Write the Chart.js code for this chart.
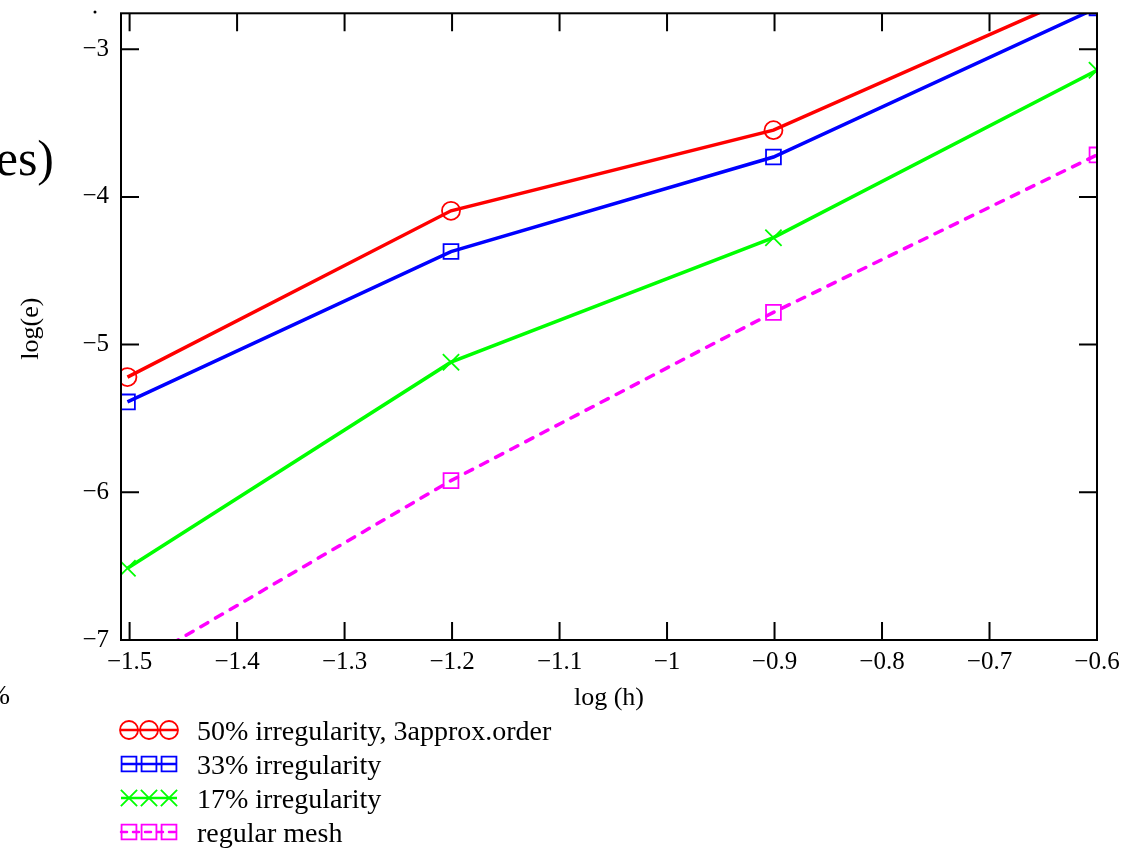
<!DOCTYPE html>
<html>
<head>
<meta charset="utf-8">
<title>log(e) vs log(h)</title>
<script src="https://cdn.jsdelivr.net/npm/chart.js@4.4.1/dist/chart.umd.min.js"></script>
<style>
  body { margin: 0; background: #fff; }
  #wrap { width: 1137px; height: 849px; }
</style>
</head>
<body>
<div id="wrap"><canvas id="errChart" width="1137" height="849"></canvas></div>
<script>
// log of mesh size and log of error for each mesh type
const logH = [-1.502, -1.201, -0.901, -0.600];
const irr50 = [-5.22, -4.094, -3.548, -2.58];
const irr33 = [-5.388, -4.370, -3.730, -2.72];
const irr17 = [-6.514, -5.119, -4.276, -3.143];
const regularMesh = [-7.2, -5.921, -4.782, -3.716];

const seriesLabels = [
  "50% irregularity, 3approx.order",
  "33% irregularity",
  "17% irregularity",
  "regular mesh"
];
const xTicks = [-1.5, -1.4, -1.3, -1.2, -1.1, -1.0, -0.9, -0.8, -0.7, -0.6];
const yTicks = [-7, -6, -5, -4, -3];

const serif = "'Liberation Serif', 'Times New Roman', serif";

function points(ys) {
  return ys.map((y, i) => ({ x: logH[i], y: y }));
}

function fmt(v) {
  const r = Math.round(v * 10) / 10;
  return String(r).replace("-", "\u2212");
}

function makeSet(label, ys, color, style, radius, dash) {
  return {
    label: label,
    data: points(ys),
    borderColor: color,
    backgroundColor: "transparent",
    borderWidth: 3.5,
    borderDash: dash || [],
    borderCapStyle: dash ? "round" : "butt",
    pointStyle: style,
    pointRadius: radius,
    pointHoverRadius: radius,
    pointBorderWidth: 1.8,
    pointBorderColor: color,
    pointBackgroundColor: "transparent",
    tension: 0,
    fill: false,
    clip: 0
  };
}

// box, inward ticks, titles and legend
const frame = {
  id: "frame",
  afterDraw(chart) {
    const ctx = chart.ctx;
    const a = chart.chartArea;
    const xs = chart.scales.x;
    const ys = chart.scales.y;
    const tl = 18;
    ctx.save();
    ctx.strokeStyle = "#000";
    ctx.lineWidth = 2;
    ctx.strokeRect(a.left, a.top, a.right - a.left, a.bottom - a.top);
    ctx.beginPath();
    xs.ticks.forEach(t => {
      const px = xs.getPixelForValue(t.value);
      ctx.moveTo(px, a.bottom); ctx.lineTo(px, a.bottom - tl);
      ctx.moveTo(px, a.top); ctx.lineTo(px, a.top + tl);
    });
    ys.ticks.forEach(t => {
      const py = ys.getPixelForValue(t.value);
      ctx.moveTo(a.left, py); ctx.lineTo(a.left + tl, py);
      ctx.moveTo(a.right, py); ctx.lineTo(a.right - tl, py);
    });
    ctx.stroke();

    // axis titles
    ctx.fillStyle = "#000";
    ctx.font = "26px " + serif;
    ctx.textAlign = "center";
    ctx.textBaseline = "alphabetic";
    ctx.fillText("log (h)", (a.left + a.right) / 2, a.bottom + 65);
    ctx.save();
    ctx.translate(31, (a.top + a.bottom) / 2 + 2);
    ctx.rotate(-Math.PI / 2);
    ctx.textBaseline = "middle";
    ctx.fillText("log(e)", 0, 0);
    ctx.restore();

    // cut-off text at the left margin
    ctx.textAlign = "right";
    ctx.font = "50px " + serif;
    ctx.fillText("es)", 54, 175);
    ctx.font = "28px " + serif;
    ctx.fillText("%", 10, 704);
    ctx.beginPath();
    ctx.arc(95, 12, 1.5, 0, Math.PI * 2);
    ctx.fill();

    // legend: line with three markers, then label
    chart.data.datasets.forEach((ds, i) => {
      const yy = a.bottom + 90 + i * 34;
      ctx.save();
      ctx.strokeStyle = ds.borderColor;
      ctx.lineWidth = 2.5;
      ctx.lineCap = ds.borderCapStyle;
      ctx.setLineDash(ds.borderDash.length ? [6, 6] : []);
      ctx.beginPath();
      ctx.moveTo(121, yy);
      ctx.lineTo(177, yy);
      ctx.stroke();
      ctx.setLineDash([]);
      ctx.lineWidth = ds.pointBorderWidth;
      ctx.fillStyle = "rgba(0,0,0,0)";
      [129, 149, 169].forEach(px => {
        Chart.helpers.drawPoint(ctx, {
          pointStyle: ds.pointStyle,
          radius: ds.pointRadius,
          borderWidth: ds.pointBorderWidth,
          rotation: 0
        }, px, yy);
      });
      ctx.restore();
      ctx.fillStyle = "#000";
      ctx.font = "28px " + serif;
      ctx.textAlign = "left";
      ctx.textBaseline = "alphabetic";
      ctx.fillText(ds.label, 197, yy + 10);
    });
    ctx.restore();
  }
};

const tickFont = { family: serif, size: 25 };

new Chart(document.getElementById("errChart").getContext("2d"), {
  type: "line",
  data: {
    datasets: [
      makeSet(seriesLabels[0], irr50, "#ff0000", "circle", 9),
      makeSet(seriesLabels[1], irr33, "#0000ff", "rect", 10.5),
      makeSet(seriesLabels[2], irr17, "#00ff00", "crossRot", 11.5),
      makeSet(seriesLabels[3], regularMesh, "#ff00ff", "rect", 10.5, [8, 9])
    ]
  },
  options: {
    responsive: false,
    animation: false,
    layout: { padding: { top: 11, right: 40, bottom: 0, left: 0 } },
    plugins: {
      legend: { display: false },
      tooltip: { enabled: false }
    },
    scales: {
      x: {
        type: "linear",
        min: -1.508,
        max: -0.6,
        afterBuildTicks: s => { s.ticks = xTicks.map(v => ({ value: v })); },
        afterFit: s => { s.height = 209; s.paddingLeft = 0; s.paddingRight = 0; },
        grid: { display: false, drawTicks: false },
        border: { display: false },
        ticks: {
          font: tickFont, color: "#000", padding: 7,
          autoSkip: false, maxRotation: 0,
          callback: v => fmt(v)
        }
      },
      y: {
        type: "linear",
        min: -7,
        max: -2.757,
        afterBuildTicks: s => { s.ticks = yTicks.map(v => ({ value: v })); },
        afterFit: s => { s.width = 121; s.paddingTop = 0; s.paddingBottom = 0; },
        grid: { display: false, drawTicks: false },
        border: { display: false },
        ticks: {
          font: tickFont, color: "#000", padding: 12,
          callback: v => fmt(v)
        }
      }
    }
  },
  plugins: [frame]
});
</script>
</body>
</html>
